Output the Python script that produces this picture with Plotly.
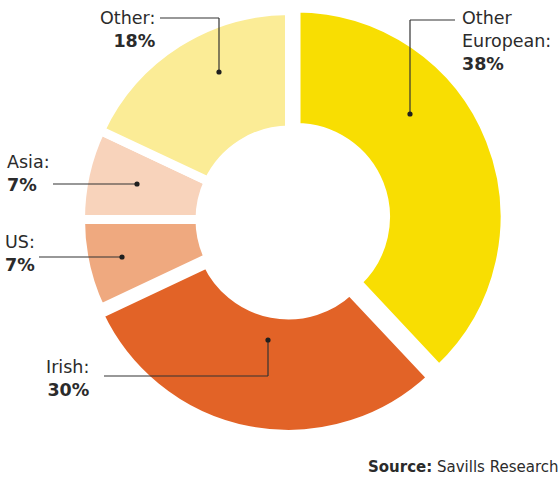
import plotly.graph_objects as go

W, H = 558, 477

# ---- data ----
labels = ["Other European", "Irish", "US", "Asia", "Other"]
label_text = ["Other<br>European:", "Irish:", "US:", "Asia:", "Other:"]
values = [38, 30, 7, 7, 18]
colors = ["#F8DE02", "#E26327", "#EFA97F", "#F8D3BB", "#FBEC96"]
pull_px = [7, 6, 0, 0, 0]
source_text = "<b>Source:</b> Savills Research"

# ---- geometry (pixels) ----
cx, cy = 289.5, 219.5
gap = 9
R = 204.5 + gap / 2
hole = (94 - gap / 2) / R
pulls = [p / R for p in pull_px]
half = R * (1 + max(pulls))


def px(x):
    return x / W


def py(y):
    return 1 - y / H


fig = go.Figure()
fig.add_trace(go.Pie(
    labels=labels, values=values, sort=False, direction="clockwise", rotation=0,
    hole=hole, pull=pulls,
    marker=dict(colors=colors, line=dict(color="white", width=gap)),
    textinfo="none", hoverinfo="label+percent", showlegend=False,
    domain=dict(x=[px(cx - half), px(cx + half)], y=[py(cy + half), py(cy - half)]),
))

TXT = "#2b2b2b"
LINE = "#333333"
FONT = "DejaVu Sans, Open Sans, sans-serif"
font = dict(family=FONT, size=17.5, color=TXT)

# label placement: (x, y, xanchor, align)
label_pos = {
    "Other European": (460, 41, "left", "left"),
    "Irish": (91, 378, "right", "right"),
    "US": (3, 253, "left", "left"),
    "Asia": (5, 174, "left", "left"),
    "Other": (157, 30, "right", "right"),
}
for lab, lt, v in zip(labels, label_text, values):
    x, y, xa, al = label_pos[lab]
    fig.add_annotation(x=px(x), y=py(y), xref="paper", yref="paper", showarrow=False,
                       text=f"{lt}<br><b>{v}%</b>", xanchor=xa, yanchor="middle",
                       align=al, font=font)

# leader lines: polyline vertices, last one is the dot
leaders = {
    "Other European": [(455, 20), (410, 20), (410, 114)],
    "Irish": [(104, 376), (268, 376), (268, 340)],
    "US": [(39, 257), (122, 257)],
    "Asia": [(53, 184), (137, 184)],
    "Other": [(160, 18), (219, 18), (219, 72)],
}
shapes = []
for lab, pts in leaders.items():
    for (x0, y0), (x1, y1) in zip(pts[:-1], pts[1:]):
        shapes.append(dict(type="line", xref="paper", yref="paper",
                           x0=px(x0), y0=py(y0), x1=px(x1), y1=py(y1),
                           line=dict(color=LINE, width=1.2)))
    dx, dy = pts[-1]
    r = 2.6
    shapes.append(dict(type="circle", xref="paper", yref="paper",
                       x0=px(dx - r), y0=py(dy + r), x1=px(dx + r), y1=py(dy - r),
                       fillcolor="#1f1f1f", line=dict(color="#1f1f1f", width=0)))

fig.add_annotation(x=px(366), y=py(467), xref="paper", yref="paper", showarrow=False,
                   text=source_text, xanchor="left", yanchor="middle",
                   font=dict(family=FONT, size=15, color=TXT))

fig.update_layout(width=W, height=H, margin=dict(l=0, r=0, t=0, b=0),
                  paper_bgcolor="white", plot_bgcolor="white", shapes=shapes)

fig.write_html("out.html")
